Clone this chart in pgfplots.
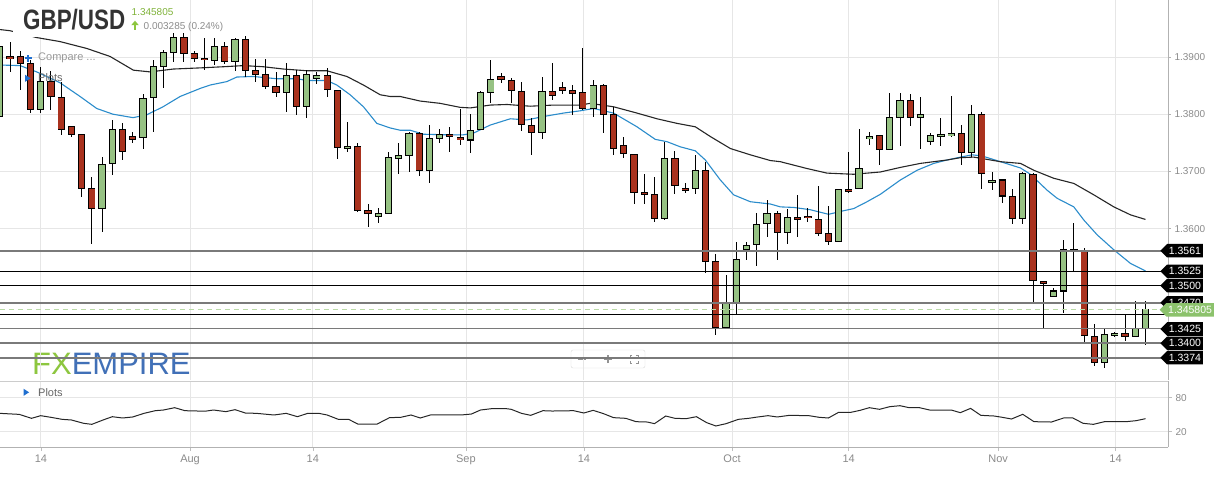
\documentclass[border=0pt]{standalone}
\usepackage{pgfplots}
\pgfplotsset{compat=1.18}
\usepackage{pgfplotstable}
\usepackage{fontspec}
\setmainfont{Liberation Sans}
\usetikzlibrary{shapes.symbols}
\definecolor{cred}{HTML}{A9321E}
\definecolor{cgreen}{HTML}{96C283}
\definecolor{mablue}{HTML}{2B8CCB}
\definecolor{gridc}{HTML}{E6E6E6}
\definecolor{lvlgray}{HTML}{7A7A7A}
\definecolor{lblgray}{HTML}{8A8A8A}
\definecolor{pxgreen}{HTML}{8CC26C}
\definecolor{fxgreen}{HTML}{8DC63F}
\definecolor{fxblue}{HTML}{4170B7}
\definecolor{titlec}{HTML}{333333}
\definecolor{iconblue}{HTML}{1F6FD0}

\pgfplotstableread{
i O H L C
0 1.3796 1.3921 1.3793 1.3918
1 1.3901 1.3927 1.3873 1.3897
2 1.3901 1.3910 1.3842 1.3889
3 1.3889 1.3895 1.3803 1.3809
4 1.3809 1.3883 1.3802 1.3858
5 1.3858 1.3876 1.3807 1.3831
6 1.3830 1.3857 1.3764 1.3774
7 1.3778 1.3780 1.3760 1.3764
8 1.3765 1.3766 1.3656 1.3670
9 1.3670 1.3691 1.3574 1.3635
10 1.3635 1.3726 1.3595 1.3713
11 1.3714 1.3790 1.3694 1.3774
12 1.3774 1.3784 1.3720 1.3734
13 1.3761 1.3769 1.3749 1.3756
14 1.3760 1.3835 1.3740 1.3828
15 1.3830 1.3895 1.3769 1.3883
16 1.3883 1.3913 1.3845 1.3908
17 1.3908 1.3942 1.3892 1.3935
18 1.3935 1.3942 1.3891 1.3906
19 1.3906 1.3911 1.3891 1.3898
20 1.3898 1.3934 1.3877 1.3895
21 1.3894 1.3934 1.3886 1.3919
22 1.3919 1.3927 1.3888 1.3892
23 1.3892 1.3934 1.3876 1.3930
24 1.3930 1.3937 1.3866 1.3876
25 1.3877 1.3896 1.3857 1.3870
26 1.3869 1.3896 1.3844 1.3849
27 1.3849 1.3874 1.3830 1.3838
28 1.3838 1.3890 1.3804 1.3868
29 1.3868 1.3878 1.3799 1.3813
30 1.3813 1.3878 1.3793 1.3870
31 1.3863 1.3874 1.3853 1.3867
32 1.3867 1.3880 1.3830 1.3844
33 1.3842 1.3843 1.3721 1.3742
34 1.3740 1.3787 1.3734 1.3744
35 1.3744 1.3750 1.3630 1.3631
36 1.3631 1.3643 1.3603 1.3626
37 1.3621 1.3637 1.3610 1.3626
38 1.3627 1.3734 1.3626 1.3725
39 1.3723 1.3749 1.3695 1.3727
40 1.3727 1.3769 1.3699 1.3767
41 1.3767 1.3769 1.3692 1.3701
42 1.3701 1.3781 1.3680 1.3758
43 1.3758 1.3774 1.3750 1.3765
44 1.3765 1.3778 1.3734 1.3761
45 1.3760 1.3809 1.3746 1.3755
46 1.3755 1.3800 1.3733 1.3772
47 1.3774 1.3841 1.3772 1.3838
48 1.3838 1.3895 1.3820 1.3861
49 1.3866 1.3873 1.3854 1.3861
50 1.3859 1.3863 1.3820 1.3841
51 1.3840 1.3857 1.3771 1.3782
52 1.3781 1.3793 1.3729 1.3768
53 1.3768 1.3865 1.3756 1.3840
54 1.3840 1.3890 1.3825 1.3832
55 1.3847 1.3857 1.3835 1.3842
56 1.3841 1.3852 1.3799 1.3837
57 1.3838 1.3916 1.3807 1.3810
58 1.3810 1.3860 1.3796 1.3851
59 1.3851 1.3853 1.3767 1.3800
60 1.3800 1.3813 1.3729 1.3740
61 1.3746 1.3761 1.3723 1.3732
62 1.3730 1.3731 1.3643 1.3663
63 1.3663 1.3695 1.3643 1.3660
64 1.3659 1.3691 1.3612 1.3618
65 1.3618 1.3752 1.3615 1.3723
66 1.3723 1.3736 1.3660 1.3676
67 1.3670 1.3680 1.3662 1.3667
68 1.3670 1.3729 1.3660 1.3702
69 1.3702 1.3717 1.3522 1.3542
70 1.3542 1.3556 1.3414 1.3427
71 1.3427 1.3519 1.3425 1.3469
72 1.3469 1.3576 1.3449 1.3546
73 1.3564 1.3577 1.3545 1.3571
74 1.3573 1.3627 1.3535 1.3608
75 1.3609 1.3650 1.3586 1.3627
76 1.3627 1.3630 1.3545 1.3594
77 1.3594 1.3635 1.3574 1.3620
78 1.3620 1.3659 1.3586 1.3616
79 1.3622 1.3637 1.3612 1.3619
80 1.3616 1.3675 1.3587 1.3592
81 1.3592 1.3640 1.3571 1.3577
82 1.3577 1.3670 1.3576 1.3669
83 1.3669 1.3734 1.3662 1.3665
84 1.3670 1.3775 1.3669 1.3705
85 1.3757 1.3769 1.3746 1.3761
86 1.3763 1.3764 1.3711 1.3739
87 1.3739 1.3837 1.3738 1.3795
88 1.3795 1.3837 1.3744 1.3824
89 1.3824 1.3835 1.3779 1.3795
90 1.3795 1.3830 1.3739 1.3799
91 1.3753 1.3767 1.3746 1.3762
92 1.3761 1.3793 1.3744 1.3765
93 1.3762 1.3832 1.3760 1.3767
94 1.3767 1.3782 1.3711 1.3733
95 1.3733 1.3817 1.3726 1.3800
96 1.3800 1.3804 1.3670 1.3697
97 1.3681 1.3699 1.3667 1.3685
98 1.3685 1.3686 1.3644 1.3657
99 1.3656 1.3669 1.3608 1.3618
100 1.3618 1.3699 1.3609 1.3697
101 1.3695 1.3697 1.3472 1.3509
102 1.3508 1.3509 1.3426 1.3504
103 1.3481 1.3497 1.3480 1.3491
104 1.3491 1.3581 1.3452 1.3564
105 1.3564 1.3610 1.3526 1.3560
106 1.3561 1.3566 1.3402 1.3413
107 1.3412 1.3433 1.3360 1.3366
108 1.3366 1.3426 1.3356 1.3415
109 1.3413 1.3420 1.3411 1.3417
110 1.3417 1.3449 1.3403 1.3411
111 1.3411 1.3473 1.3410 1.3426
112 1.3426 1.3473 1.3397 1.345805
}\candles

\tikzset{plab/.style={signal, signal to=west, signal pointer angle=90, fill=black, text=white,
  font=\fontsize{10.5}{10.5}\selectfont, inner xsep=1.8pt, inner ysep=0pt, minimum height=13.5pt, anchor=east}}

\begin{document}
\begin{tikzpicture}[x=1pt,y=1pt]
\useasboundingbox (0pt,0pt) rectangle (1218pt,477pt);
% watermark
\node[anchor=west, inner sep=0, font=\fontsize{31}{31}\selectfont] at (32pt,113.5pt) {\textcolor{fxgreen}{FX}\textcolor{fxblue}{EMPIRE}};
% zoom controls
\draw[gray!30, fill=white, rounded corners=2pt] (571pt,109pt) rectangle (645pt,127pt);
\draw[gray!85, line width=1.2pt] (578pt,118pt) -- (586pt,118pt);
\draw[gray!85, line width=1.2pt] (604pt,118pt) -- (612pt,118pt) (608pt,114pt) -- (608pt,122pt);
\draw[gray!85, line width=1pt] (630pt,116pt)--(630pt,114pt)--(632pt,114pt) (636pt,114pt)--(638pt,114pt)--(638pt,116pt) (638pt,120pt)--(638pt,122pt)--(636pt,122pt) (632pt,122pt)--(630pt,122pt)--(630pt,120pt);

\begin{axis}[
  at={(0pt,97pt)}, anchor=south west, scale only axis,
  width=1168pt, height=380pt,
  xmin=0.022, xmax=114.2, ymin=1.33353, ymax=1.39997,
  axis line style={draw=none},
  xtick={4.02,18.6,30.6,45.57,57.1,71.58,82.98,97.6,109.07},
  xticklabels={},
  xticklabel style={opacity=0, text opacity=0},
  xtick style={draw=none},
  ytick={1.36,1.37,1.38,1.39},
  yticklabels={1.3600,1.3700,1.3800,1.3900},
  ytick pos=right, yticklabel pos=right,
  tick align=outside, major tick length=3pt,
  ytick style={draw=gray!60, line width=0.6pt},
  xmajorgrids, ymajorgrids,
  major grid style={draw=gridc, line width=0.8pt},
  yticklabel style={font=\fontsize{10}{12}\selectfont, text=lblgray},
]
% moving averages
\addplot[mablue, line width=1.1pt] coordinates {(0.02,1.3886)(1.98,1.3885)(3.61,1.3874)(5.89,1.3855)(7.85,1.3831)(9.48,1.3810)(11.07,1.3800)(13.03,1.3794)(14.37,1.3799)(15.96,1.3813)(17.63,1.3831)(19.58,1.3845)(20.56,1.3851)(22.19,1.3857)(23.17,1.3865)(24.76,1.3866)(27.08,1.3862)(29.04,1.3862)(30.02,1.3859)(31.97,1.3859)(32.95,1.3851)(34.25,1.3834)(35.55,1.3813)(36.86,1.3784)(38.16,1.3776)(39.14,1.3772)(40.12,1.3772)(41.42,1.3765)(43.71,1.3764)(45.33,1.3764)(46.31,1.3767)(47.94,1.3781)(49.9,1.3792)(51.53,1.3790)(53.16,1.3796)(55.11,1.3802)(56.75,1.3806)(58.05,1.3810)(60.0,1.3802)(62.29,1.3778)(64.08,1.3756)(65.22,1.3752)(66.52,1.3743)(67.99,1.3736)(68.97,1.3720)(70.44,1.3685)(71.74,1.3659)(73.37,1.3647)(75.33,1.3643)(76.3,1.3638)(77.61,1.3637)(79.24,1.3633)(81.03,1.3625)(82.17,1.3630)(83.47,1.3635)(84.78,1.3647)(86.08,1.3660)(88.04,1.3685)(89.67,1.3702)(91.3,1.3714)(92.61,1.3720)(93.91,1.3725)(95.05,1.3729)(96.03,1.3727)(97.82,1.3717)(99.78,1.3706)(100.75,1.3695)(102.39,1.3667)(103.36,1.3653)(104.99,1.3638)(105.97,1.3615)(107.28,1.3589)(108.9,1.3563)(110.54,1.3539)(112.0,1.3526)};
\addplot[black!85, line width=1.1pt] coordinates {(0.02,1.3948)(1.0,1.3946)(3.61,1.3934)(5.89,1.3927)(8.5,1.3915)(10.78,1.3901)(13.06,1.3877)(14.69,1.3874)(16.97,1.3879)(19.58,1.3881)(21.86,1.3883)(23.82,1.3885)(25.77,1.3883)(27.73,1.3879)(30.02,1.3876)(31.97,1.3876)(33.93,1.3866)(35.55,1.3851)(37.19,1.3834)(38.16,1.3831)(39.14,1.3831)(41.1,1.3823)(43.05,1.3819)(45.0,1.3812)(45.99,1.3811)(47.94,1.3816)(49.58,1.3817)(51.85,1.3814)(54.13,1.3816)(56.75,1.3816)(57.72,1.3819)(60.0,1.3813)(62.29,1.3802)(64.25,1.3792)(66.2,1.3784)(67.99,1.3778)(69.46,1.3761)(71.42,1.3740)(73.37,1.3729)(75.33,1.3719)(76.3,1.3717)(78.92,1.3705)(80.87,1.3697)(83.47,1.3695)(86.08,1.3699)(88.04,1.3707)(89.99,1.3714)(92.61,1.3720)(93.91,1.3724)(95.21,1.3725)(97.82,1.3717)(99.78,1.3714)(101.08,1.3702)(103.03,1.3688)(104.99,1.3679)(106.95,1.3659)(108.9,1.3638)(110.54,1.3624)(112.0,1.3616)};
% wicks
\addplot[draw=none, mark=none, error bars/.cd, y dir=both, y explicit, error mark=none,
  error bar style={draw=black, line width=0.9pt}]
  table[x=i, y expr={(\thisrow{H}+\thisrow{L})/2}, y error expr={(\thisrow{H}-\thisrow{L})/2}] {\candles};
% body outlines
\addplot[draw=none, mark=none, error bars/.cd, y dir=both, y explicit, error mark=none,
  error bar style={draw=black, line width=7.2pt}]
  table[x=i, y expr={(\thisrow{O}+\thisrow{C})/2}, y error expr={abs(\thisrow{C}-\thisrow{O})/2+0.00009}] {\candles};
% green bodies
\addplot[draw=none, mark=none, error bars/.cd, y dir=both, y explicit, error mark=none,
  error bar style={draw=cgreen, line width=5.4pt}]
  table[x=i, y expr={(\thisrow{O}+\thisrow{C})/2}, y error expr={(\thisrow{C}>=\thisrow{O})*max(abs(\thisrow{C}-\thisrow{O})/2-0.00009,0)}] {\candles};
% red bodies
\addplot[draw=none, mark=none, error bars/.cd, y dir=both, y explicit, error mark=none,
  error bar style={draw=cred, line width=5.4pt}]
  table[x=i, y expr={(\thisrow{O}+\thisrow{C})/2}, y error expr={(\thisrow{C}<\thisrow{O})*max(abs(\thisrow{C}-\thisrow{O})/2-0.00009,0)}] {\candles};
% support / resistance levels
\addplot[lvlgray, line width=1.3pt] coordinates {(0,1.3561)(115,1.3561)};
\addplot[black, line width=1pt] coordinates {(0,1.3525)(115,1.3525)};
\addplot[black, line width=1pt] coordinates {(0,1.3500)(115,1.3500)};
\addplot[lvlgray, line width=1.3pt] coordinates {(0,1.3470)(115,1.3470)};
\addplot[black, line width=1pt] coordinates {(0,1.3450)(115,1.3450)};
\addplot[lvlgray, line width=1.3pt] coordinates {(0,1.3425)(115,1.3425)};
\addplot[lvlgray, line width=1.3pt] coordinates {(0,1.3400)(115,1.3400)};
\addplot[lvlgray, line width=1.3pt] coordinates {(0,1.3374)(115,1.3374)};
\addplot[pxgreen!60, line width=0.9pt, dash pattern=on 5pt off 4pt] coordinates {(0,1.345805)(115,1.345805)};
\end{axis}

\begin{axis}[
  at={(0pt,30pt)}, anchor=south west, scale only axis,
  width=1168pt, height=66pt,
  xmin=0.022, xmax=114.2, ymin=-7, ymax=109.5,
  axis line style={draw=none},
  xtick={4.02,18.6,30.6,45.57,57.1,71.58,82.98,97.6,109.07},
  xticklabels={14,Aug,14,Sep,14,Oct,14,Nov,14},
  ytick={20,80}, yticklabels={20,80},
  xtick pos=bottom, ytick pos=right, yticklabel pos=right,
  tick align=outside, major tick length=4pt,
  tick style={draw=gray!50, line width=0.6pt},
  xmajorgrids, ymajorgrids,
  major grid style={draw=gridc, line width=0.8pt},
  xticklabel style={font=\fontsize{11}{12}\selectfont, text=lblgray},
  yticklabel style={font=\fontsize{10}{12}\selectfont, text=lblgray},
]
\addplot[black!85, line width=1pt] coordinates {(0.0,52.4)(1.9,50.6)(3.1,43.6)(4.0,48.3)(5.0,45.4)(6.1,41.8)(7.0,40.7)(8.2,34.8)(9.0,33.0)(10.1,40.7)(11.0,46.5)(12.0,44.2)(13.0,46.0)(14.1,52.4)(15.2,57.1)(16.0,58.3)(17.1,62.4)(18.1,57.1)(19.4,56.5)(20.2,56.5)(20.9,58.3)(22.1,55.4)(23.0,58.9)(24.0,53.0)(25.1,52.4)(26.8,49.5)(28.0,52.4)(29.1,46.5)(30.1,52.4)(31.2,52.4)(32.0,49.5)(33.1,41.8)(34.1,41.8)(35.0,33.6)(36.9,33.6)(38.1,44.8)(39.2,45.4)(40.2,49.5)(41.1,44.2)(42.1,49.5)(43.8,49.5)(45.1,49.5)(46.1,51.2)(47.0,58.3)(48.1,60.7)(49.5,60.7)(50.0,59.5)(51.0,52.4)(51.9,48.9)(53.1,57.1)(54.0,56.5)(56.1,57.1)(57.1,53.0)(58.0,57.7)(59.0,52.0)(60.0,44.8)(61.2,43.6)(62.2,37.7)(63.3,37.1)(64.0,34.2)(65.1,47.7)(66.0,43.6)(67.1,43.0)(68.1,46.5)(69.1,36.0)(70.0,30.1)(71.0,34.2)(72.2,41.8)(73.2,43.6)(74.1,46.0)(75.1,48.3)(76.0,46.0)(77.2,48.9)(79.1,48.3)(80.1,45.4)(81.0,44.2)(82.0,54.2)(83.2,54.2)(84.1,57.7)(85.0,62.4)(86.0,59.5)(87.0,64.2)(88.0,65.9)(88.9,62.4)(89.9,62.4)(90.9,58.3)(93.0,58.3)(93.9,53.6)(94.9,61.2)(95.9,48.9)(97.2,47.7)(98.0,45.4)(98.9,42.4)(100.0,50.7)(101.1,37.7)(102.8,37.1)(104.0,44.2)(104.9,44.2)(105.9,34.8)(106.9,33.0)(108.0,37.7)(110.1,37.7)(111.1,39.5)(112.0,43.0)};
\end{axis}

% panel borders
\draw[gray!60, line width=0.7pt] (1168pt,97pt) -- (1168pt,477pt);
\draw[gray!60, line width=0.7pt] (1168pt,30pt) -- (1168pt,96pt);
\draw[gray!40, line width=0.7pt] (0pt,96pt) -- (1168pt,96pt);
\draw[gray!60, line width=0.7pt] (0pt,30pt) -- (1168pt,30pt);

% price labels
\node[plab] at (1203pt,226.3pt) {1.3561};
\node[plab] at (1203pt,205.7pt) {1.3525};
\node[plab] at (1203pt,191.4pt) {1.3500};
\node[plab] at (1203pt,174.2pt) {1.3470};
\node[plab, fill=pxgreen] at (1214pt,167.2pt) {1.345805};
\node[plab] at (1203pt,148.0pt) {1.3425};
\node[plab] at (1203pt,133.7pt) {1.3400};
\node[plab] at (1203pt,119.3pt) {1.3374};

% title block
\fill[white] (13pt,440pt) rectangle (127pt,477pt);
\node[anchor=west, inner sep=0, text=titlec, font=\fontsize{28}{28}\selectfont\bfseries] at (23pt,457pt) {\scalebox{0.8}[1]{GBP/USD}};
\node[anchor=west, inner sep=0, text=fxgreen!90!black, font=\fontsize{10}{10}\selectfont] at (131.5pt,465pt) {1.345805};
\fill[fxgreen] (131.2pt,451.8pt) -- (138.8pt,451.8pt) -- (135pt,456.3pt) -- cycle;
\fill[fxgreen] (133.7pt,446.8pt) rectangle (136.3pt,452pt);
\node[anchor=west, inner sep=0, text=gray!90, font=\fontsize{10}{10}\selectfont] at (143.5pt,450.5pt) {0.003285 (0.24\%)};

% overlay labels
\draw[iconblue, line width=1.6pt] (24.5pt,418.7pt) -- (32pt,418.7pt) (28.2pt,415pt) -- (28.2pt,422.4pt);
\node[anchor=west, inner sep=0, text=gray!80, font=\fontsize{11}{12}\selectfont] at (38pt,418.7pt) {Compare ...};
\fill[iconblue] (25pt,402.3pt) -- (30.6pt,398.7pt) -- (25pt,395.1pt) -- cycle;
\node[anchor=west, inner sep=0, text=gray!80!black, font=\fontsize{11}{12}\selectfont] at (38pt,399pt) {Plots};
\fill[iconblue] (23.5pt,88.3pt) -- (29.1pt,84.7pt) -- (23.5pt,81.1pt) -- cycle;
\node[anchor=west, inner sep=0, text=gray!80!black, font=\fontsize{11}{12}\selectfont] at (38pt,84.7pt) {Plots};
\end{tikzpicture}
\end{document}
